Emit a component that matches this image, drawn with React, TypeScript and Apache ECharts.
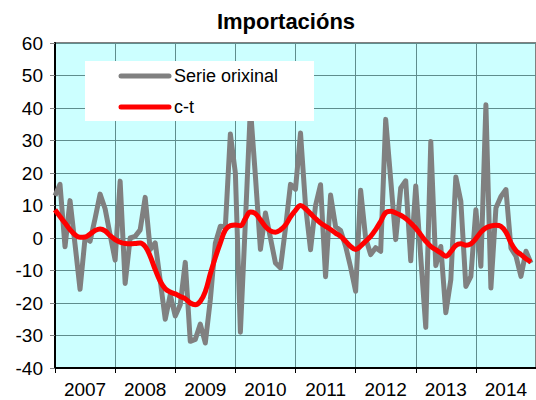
import React, { useEffect, useRef } from "react";
import * as echarts from "echarts";

const years = ["2007", "2008", "2009", "2010", "2011", "2012", "2013", "2014"];

// Monthly values, Jan 2007 - Dec 2014
const serieOrixinal = [
  13, 16.5, -2.7, 11.5, -2, -15.8, 0, -1, 6, 13.5, 9, 1,
  -6.8, 17.5, -14, 0, 0.5, 2.5, 12.5, -3.5, -1.5, -13, -25, -17.5,
  -24, -20.5, -7.5, -31.8, -31.2, -26.5, -32.3, -19, -1.6, 3.6, 3.5, 32,
  20, -29, 5, 40, 19, -3.5, 7.7, 0, -7.7, -9.2, 3, 16.5,
  15, 32.3, 10, -3.6, 10, 16.4, -11.9, 13.2, 3.5, 2.3, -2.5, -9,
  -16.4, 14.7, 0, -5.1, -3, -4.1, 36.5, 18, -0.5, 15.4, 17.6, -7,
  16, -6, -27.5, 29.7, -8.5, -2.6, -23, -12.8, 18.8, 11.3, -14.9, -11.8,
  8.7, -8.7, 41, -15.4, 9.2, 12.8, 14.9, -3.1, -5.6, -11.8, -4.1, -7.7,
];

const cicloTendencia = [
  8.7, 6.6, 4.6, 2.6, 1, 0.2, 0.3, 1.2, 2.3, 2.8, 2.2, 0.7,
  -0.5, -1.3, -1.7, -1.8, -1.7, -1.5, -2.6, -5.6, -9.7, -13.3, -15.6, -16.6,
  -17.2, -18, -18.7, -20, -20.5, -19.5, -16.5, -11, -6, -1.5, 2.5, 3.8,
  4, 3.8, 6, 8, 7.5, 5.6, 3.5, 2.2, 1.8, 2.5, 4, 6.5,
  8.5, 10, 9, 7.5, 6, 4.6, 3.6, 2.6, 1.5, 0.5, -1, -2.6,
  -3.5, -2.5, -1, 0.5, 2.6, 5.1, 7.8, 8.2, 7.7, 7, 6, 4.6,
  3, 1, -1, -2.6, -3.6, -4.6, -5.6, -4.2, -2.3, -1.8, -2.2, -1.8,
  -0.2, 1.8, 3.1, 3.7, 3.9, 3.6, 1.8, -1.5, -3.9, -5.1, -6.4, -7.4,
];

const yMin = -40;
const yMax = 60;
const yStep = 10;

const titleText = "Importacións";
const legendNames = ["Serie orixinal", "c-t"];

const FONT = "'Liberation Sans', Arial, sans-serif";

export default function App() {
  const ref = useRef<HTMLDivElement>(null);

  useEffect(() => {
    if (!ref.current) return;
    const chart = echarts.init(ref.current, null, { renderer: "svg" });
    const gridColor = "#5f8d8d";
    chart.setOption({
      animation: false,
      backgroundColor: "#ffffff",
      textStyle: { fontFamily: FONT },
      grid: {
        left: 55,
        top: 43,
        width: 486,
        height: 325,
        show: true,
        backgroundColor: "#CCFFFF",
        borderColor: "#808080",
        borderWidth: 2,
      },
      xAxis: [
        {
          type: "value",
          min: 0,
          max: 96,
          interval: 12,
          axisLine: { show: true, onZero: false, lineStyle: { color: "#000", width: 2 } },
          axisTick: { show: true, length: 5, lineStyle: { color: "#000", width: 1 } },
          axisLabel: { show: false },
          splitLine: { show: true, lineStyle: { color: gridColor, width: 1 } },
        },
        {
          type: "category",
          position: "bottom",
          data: years,
          boundaryGap: true,
          axisLine: { show: false },
          axisTick: { show: false },
          splitLine: { show: false },
          axisLabel: { color: "#000", fontSize: 19, fontFamily: FONT, margin: 12 },
        },
      ],
      yAxis: {
        type: "value",
        min: yMin,
        max: yMax,
        interval: yStep,
        axisLine: { show: true, lineStyle: { color: "#000", width: 2 } },
        axisTick: { show: true, length: 5, lineStyle: { color: "#808080", width: 1 } },
        axisLabel: { color: "#000", fontSize: 19, fontFamily: FONT, margin: 12 },
        splitLine: { show: true, lineStyle: { color: gridColor, width: 1 } },
      },
      series: [
        {
          name: legendNames[0],
          type: "line",
          xAxisIndex: 0,
          data: serieOrixinal.map((v, i) => [i, v]),
          symbol: "none",
          lineStyle: { color: "#808080", width: 5, join: "round" },
          z: 2,
        },
        {
          name: legendNames[1],
          type: "line",
          xAxisIndex: 0,
          data: cicloTendencia.map((v, i) => [i, v]),
          symbol: "none",
          smooth: 0.4,
          lineStyle: { color: "#FF0000", width: 5 },
          z: 3,
        },
      ],
      graphic: [
        {
          type: "text",
          x: 286,
          y: 21,
          style: {
            text: titleText,
            fontSize: 22,
            fontWeight: "bold",
            fontFamily: FONT,
            fill: "#000",
            align: "center",
            verticalAlign: "middle",
          },
          z: 10,
        },
        {
          type: "rect",
          shape: { x: 85, y: 61, width: 229, height: 60 },
          style: { fill: "#ffffff" },
          z: 20,
        },
        {
          type: "line",
          shape: { x1: 121, y1: 76, x2: 169, y2: 76 },
          style: { stroke: "#808080", lineWidth: 5, lineCap: "round" },
          z: 21,
        },
        {
          type: "text",
          x: 174,
          y: 76,
          style: {
            text: legendNames[0],
            fontSize: 18,
            fontFamily: FONT,
            fill: "#000",
            verticalAlign: "middle",
          },
          z: 21,
        },
        {
          type: "line",
          shape: { x1: 121, y1: 107, x2: 169, y2: 107 },
          style: { stroke: "#FF0000", lineWidth: 5, lineCap: "round" },
          z: 21,
        },
        {
          type: "text",
          x: 174,
          y: 107,
          style: {
            text: legendNames[1],
            fontSize: 18,
            fontFamily: FONT,
            fill: "#000",
            verticalAlign: "middle",
          },
          z: 21,
        },
      ],
    });
    return () => chart.dispose();
  }, []);

  return (
    <div
      ref={ref}
      style={{ position: "absolute", left: 0, top: 0, width: 536, height: 400, background: "#fff" }}
    />
  );
}
